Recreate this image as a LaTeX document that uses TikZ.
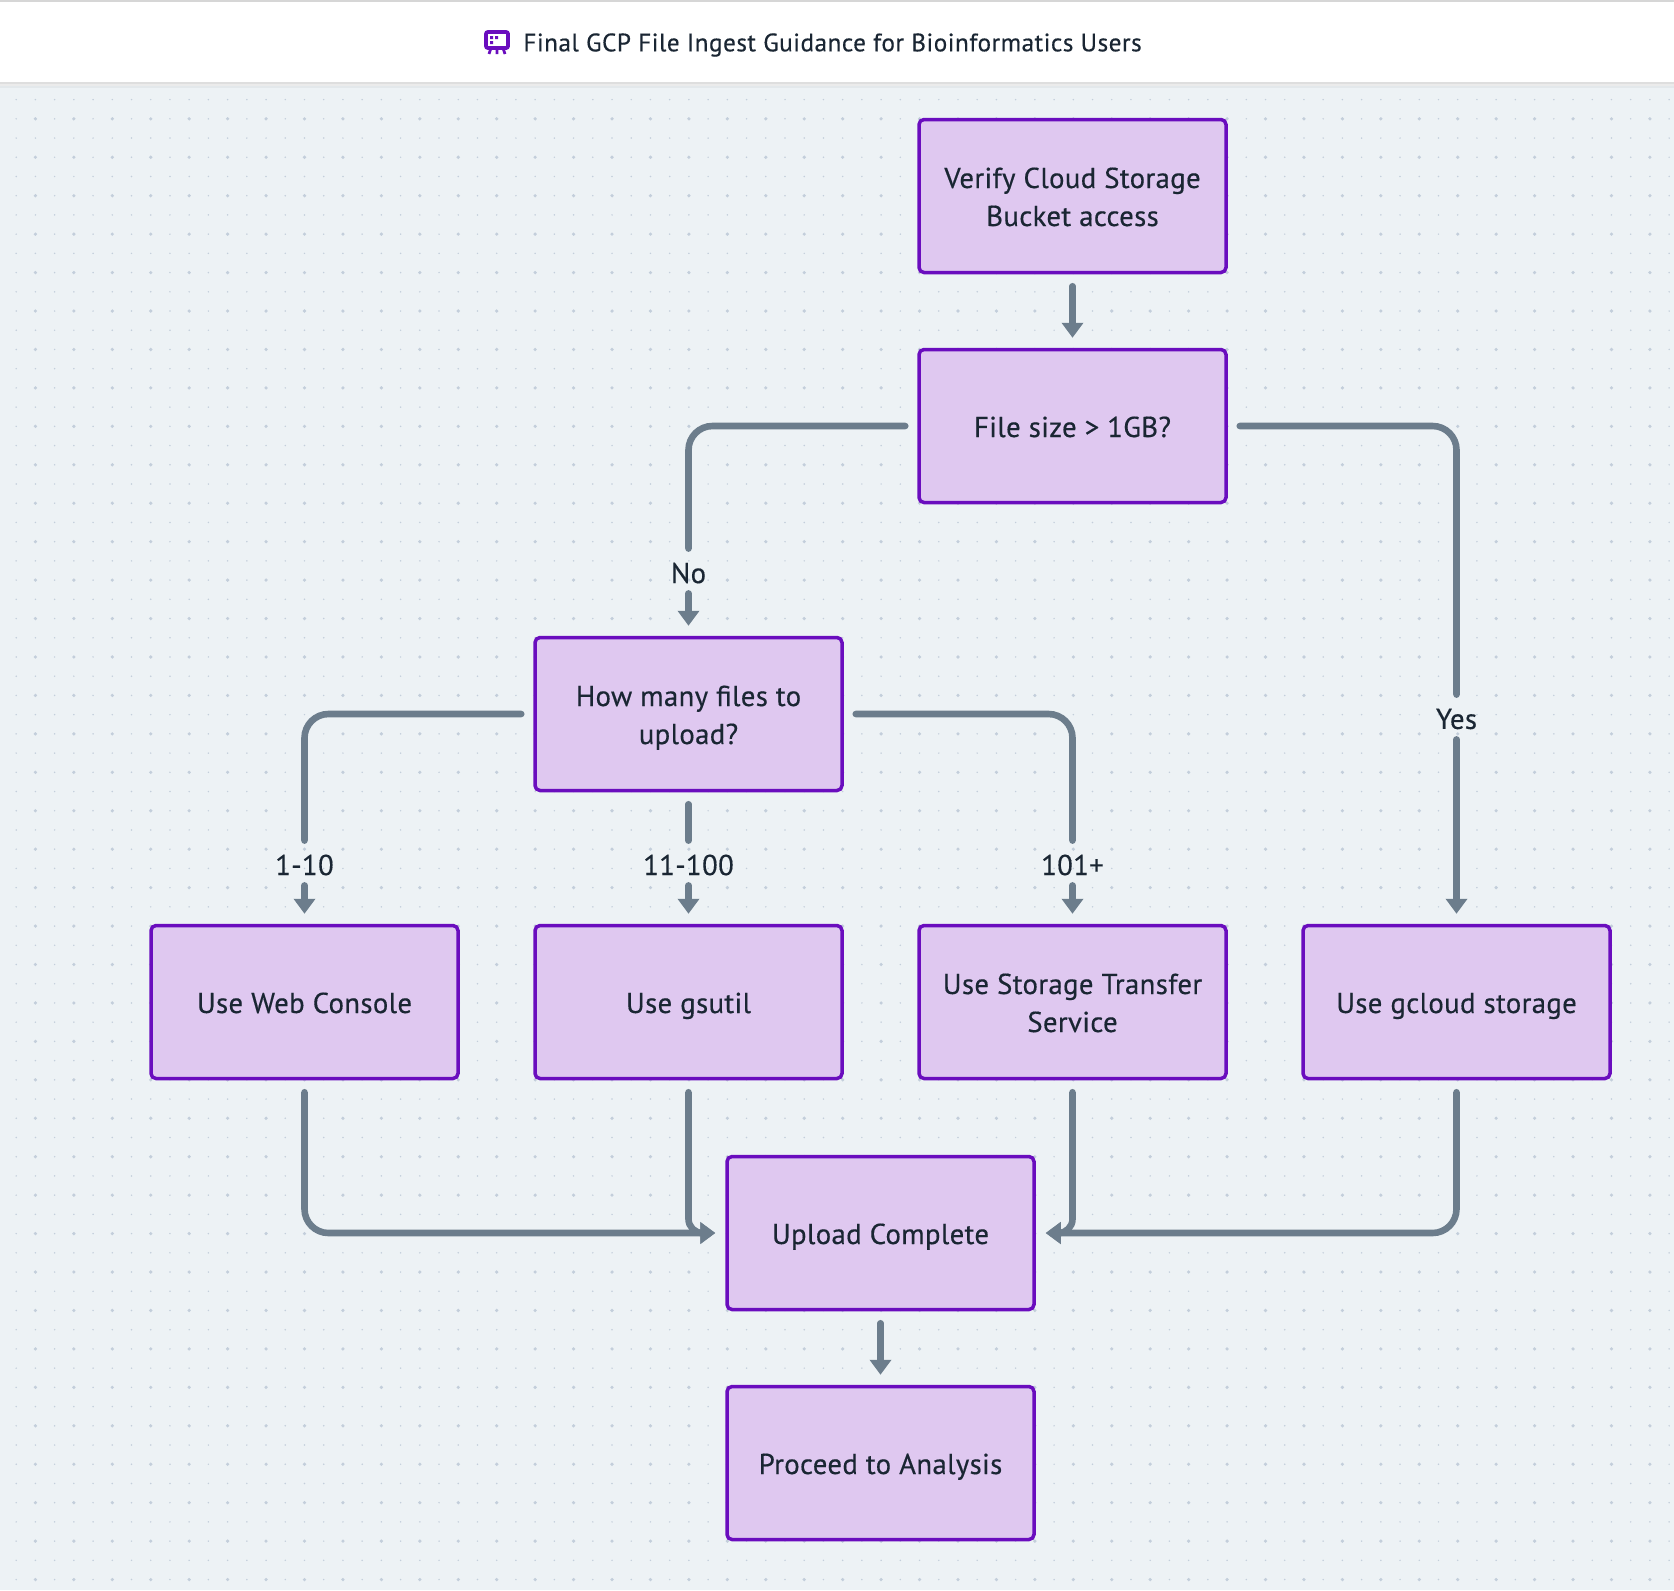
\documentclass[tikz,border=0pt]{standalone}
\usepackage{fontspec}
\setmainfont[LetterSpace=1.2,FakeBold=0.4]{PT Sans}
\usetikzlibrary{arrows.meta,calc}
\definecolor{bgc}{HTML}{EDF2F5}
\definecolor{dotc}{HTML}{C3CEDB}
\definecolor{boxf}{HTML}{DFC8F0}
\definecolor{boxd}{HTML}{6A0DBE}
\definecolor{linec}{HTML}{6C7D8C}
\definecolor{textc}{HTML}{1A2633}
\newcommand{\lst}{\rule[-4pt]{0pt}{19pt}}
\tikzset{
  x=0.5pt,y=-0.5pt,
  flowbox/.style={draw=boxd,fill=boxf,line width=1.75pt,rounded corners=2.5pt,minimum width=153.5pt,minimum height=76.5pt,inner sep=0pt,align=center,text=textc,font=\fontsize{14.4}{19}\selectfont},
  seg/.style={draw=linec,line width=3.3pt,line cap=round,rounded corners=12pt,shorten <=6pt,shorten >=0.5pt},
  conn/.style={seg,shorten >=5pt,-{Triangle[length=7.5pt,width=10.5pt]}},
  fromlab/.style={conn,shorten <=-1.5pt},
  edgelab/.style={text=textc,inner sep=0pt,minimum height=23pt,font=\fontsize{14.4}{19}\selectfont},
  smalldots/.style={draw=dotc,line width=0.84pt,line cap=round,dash pattern=on 0pt off 9.61pt},
  bigdots/.style={draw=dotc,line width=1.8pt,line cap=round,dash pattern=on 0pt off 19.22pt},
}
\begin{document}
\begin{tikzpicture}
\useasboundingbox (0,0) rectangle (1674,1590);
\fill[bgc] (0,0) rectangle (1674,1590);
\foreach \j in {0,...,77}{
  \pgfmathsetmacro{\dy}{99.6+19.22*\j}
  \draw[smalldots] (16.2,\dy) -- (1674,\dy);
}
\foreach \j in {0,...,38}{
  \pgfmathsetmacro{\dy}{118.82+38.44*\j}
  \draw[bigdots] (35.42,\dy) -- (1674,\dy);
}
\fill[white] (0,0) rectangle (1674,82);
\fill[black!16] (0,0) rectangle (1674,2);
\fill[black!13] (0,82) rectangle (1674,84);
\fill[black!8] (0,84) rectangle (1674,86);
\fill[black!4!bgc] (0,86) rectangle (1674,88);
% icon
\draw[boxd,line width=1.9pt,fill=white,rounded corners=1pt] (486,32) rectangle (508,48);
\fill[boxd] (490,36) rectangle (493,39) (495,36) rectangle (498,39) (490,41) rectangle (493,44);
\draw[boxd,line width=1.4pt] (491,48) -- (489,54) (497,48) -- (497,54) (503,48) -- (505,54);
\node[anchor=west,text=textc,inner sep=0pt,font=\fontsize{12.6}{15}\selectfont\addfontfeatures{LetterSpace=2}] (title) at (523,45) {Final GCP File Ingest Guidance for Bioinformatics Users};
% boxes
\node[flowbox] (a) at (1072.5,196) {\lst Verify Cloud Storage\\\lst Bucket access};
\node[flowbox] (b) at (1072.5,426) {\lst File size > 1GB?};
\node[flowbox] (c) at (688.5,714) {\lst How many files to\\\lst upload?};
\node[flowbox] (d) at (304.5,1002) {\lst Use Web Console};
\node[flowbox] (e) at (688.5,1002) {\lst Use gsutil};
\node[flowbox] (f) at (1072.5,1002) {\lst Use Storage Transfer\\\lst Service};
\node[flowbox] (g) at (1456.5,1002) {\lst Use gcloud storage};
\node[flowbox] (h) at (880.5,1233) {\lst Upload Complete};
\node[flowbox] (i) at (880.5,1463) {\lst Proceed to Analysis};
% labels
\node[edgelab] (l1) at (688.5,573) {No};
\node[edgelab] (l2) at (1456.5,719) {Yes};
\node[edgelab] (l3) at (304.5,865) {1-10};
\node[edgelab] (l4) at (688.5,865) {11-100};
\node[edgelab] (l5) at (1072.5,865) {101+};
% connectors
\draw[conn] (a) -- (b);
\draw[seg] (b.west) -| (l1.north);
\draw[fromlab] (l1.south) -- (c.north);
\draw[seg] (b.east) -| (l2.north);
\draw[fromlab] (l2.south) -- (g.north);
\draw[seg] (c.west) -| (l3.north);
\draw[fromlab] (l3.south) -- (d.north);
\draw[seg] (c.south) -- (l4.north);
\draw[fromlab] (l4.south) -- (e.north);
\draw[seg] (c.east) -| (l5.north);
\draw[fromlab] (l5.south) -- (f.north);
\draw[conn] (d.south) |- (h.west);
\draw[conn,rounded corners=7pt] (e.south) |- (h.west);
\draw[conn,rounded corners=7pt] (f.south) |- (h.east);
\draw[conn] (g.south) |- (h.east);
\draw[conn] (h) -- (i);
\end{tikzpicture}
\end{document}
